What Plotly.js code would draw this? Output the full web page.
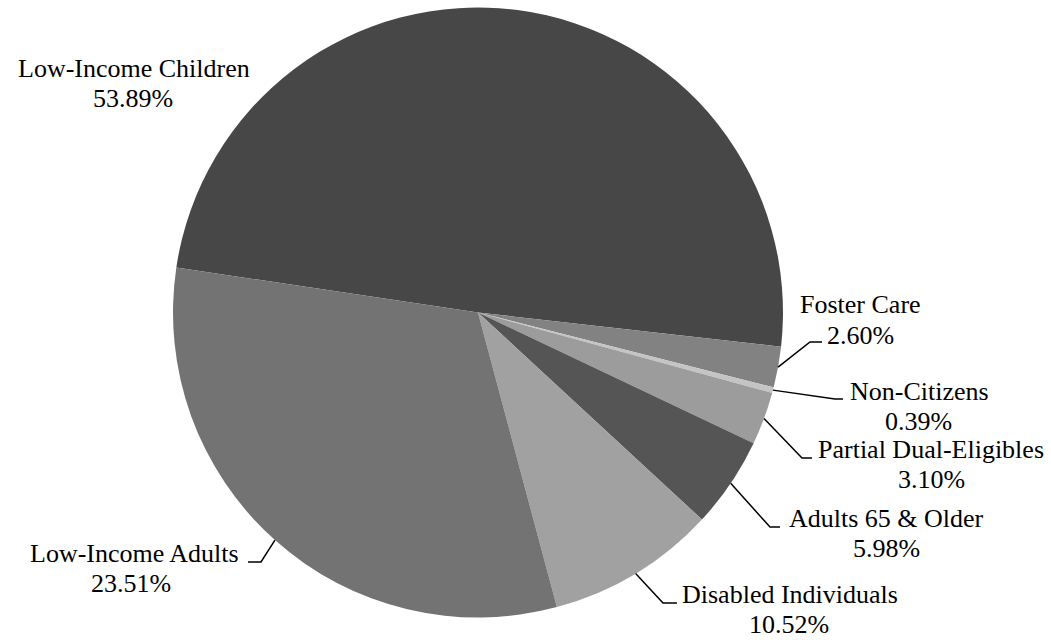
<!DOCTYPE html>
<html>
<head>
<meta charset="utf-8">
<script src="https://cdn.plot.ly/plotly-3.0.1.min.js"></script>
<style>
html,body{margin:0;padding:0;background:#fff;}
#chart{width:1051px;height:640px;}
#chart text{font-family:'Liberation Serif','Times New Roman',serif !important;}
</style>
</head>
<body>
<div id="chart"></div>
<script>
// ---- data ----
const categories = ['Low-Income Children','Foster Care','Non-Citizens','Partial Dual-Eligibles','Adults 65 & Older','Disabled Individuals','Low-Income Adults'];
// slice sizes as drawn in the picture (share of the circle, %)
const sliceValues = [49.43, 2.16, 0.30, 2.80, 4.83, 8.96, 31.52];
// percentages printed on the labels
const labelPercents = ['53.89%','2.60%','0.39%','3.10%','5.98%','10.52%','23.51%'];
const sliceColors = ['#474747','#828282','#c4c4c4','#9c9c9c','#555555','#a1a1a1','#737373'];

// ---- layout settings ----
const W = 1051, H = 640;
const CX = 478, CY = 312.5, R = 305;
const START_ANGLE = 278.48; // clockwise from 12 o'clock
const FONT = 'Liberation Serif';
const FS = 26;
// label positions in pixels: [nameX, nameBaseline, pctX, pctBaseline]
const labelPos = [
  [134, 78, 133, 108],
  [860, 313, 860, 344],
  [919, 400, 918, 430],
  [931, 458, 931, 488],
  [886, 527, 886, 557],
  [790, 603, 789, 633],
  [134, 562, 131, 592]
];
// leader elbow + end points (pixels), null = no leader
const leaderPts = [
  null,
  [[810,342],[822,342]],
  [[835,399],[843,399]],
  [[802,458],[812,458]],
  [[770,527],[780,527]],
  [[663,603],[677,603]],
  [[261,562],[248,562]]
];

const px = x => x / W;
const py = y => 1 - y / H;

const total = sliceValues.reduce((a,b)=>a+b,0);
let cum = 0;
const shapes = [];
const annotations = [];
categories.forEach((c,i) => {
  const a0 = START_ANGLE + cum / total * 360;
  cum += sliceValues[i];
  const a1 = START_ANGLE + cum / total * 360;
  const mid = (a0 + a1) / 2 * Math.PI / 180;
  const sx = CX + R * Math.sin(mid), sy = CY - R * Math.cos(mid);
  if (leaderPts[i]) {
    const [e, f] = leaderPts[i];
    shapes.push({
      type:'path', xref:'paper', yref:'paper',
      path:`M ${px(sx)} ${py(sy)} L ${px(e[0])} ${py(e[1])} L ${px(f[0])} ${py(f[1])}`,
      line:{color:'#000', width:1.5}
    });
  }
  const p = labelPos[i];
  annotations.push({xref:'paper',yref:'paper',x:px(p[0]),y:py(p[1]-9),xanchor:'center',yanchor:'middle',
    text:c,showarrow:false,font:{family:FONT,size:FS,color:'#000'}});
  annotations.push({xref:'paper',yref:'paper',x:px(p[2]),y:py(p[3]-9),xanchor:'center',yanchor:'middle',
    text:labelPercents[i],showarrow:false,font:{family:FONT,size:FS,color:'#000'}});
});

const trace = {
  type:'pie',
  labels:categories,
  values:sliceValues,
  sort:false,
  direction:'clockwise',
  rotation: START_ANGLE > 180 ? START_ANGLE - 360 : START_ANGLE,
  marker:{colors:sliceColors, line:{width:0}},
  textinfo:'none',
  hoverinfo:'label',
  domain:{x:[(CX-R)/W,(CX+R)/W], y:[1-(CY+R)/H, 1-(CY-R)/H]}
};

Plotly.newPlot('chart',[trace],{
  width:W,height:H,
  margin:{l:0,r:0,t:0,b:0,pad:0},
  showlegend:false,
  paper_bgcolor:'#fff',
  font:{family:FONT,size:FS,color:'#000'},
  shapes:shapes,
  annotations:annotations
},{displayModeBar:false,staticPlot:true});
</script>
</body>
</html>
